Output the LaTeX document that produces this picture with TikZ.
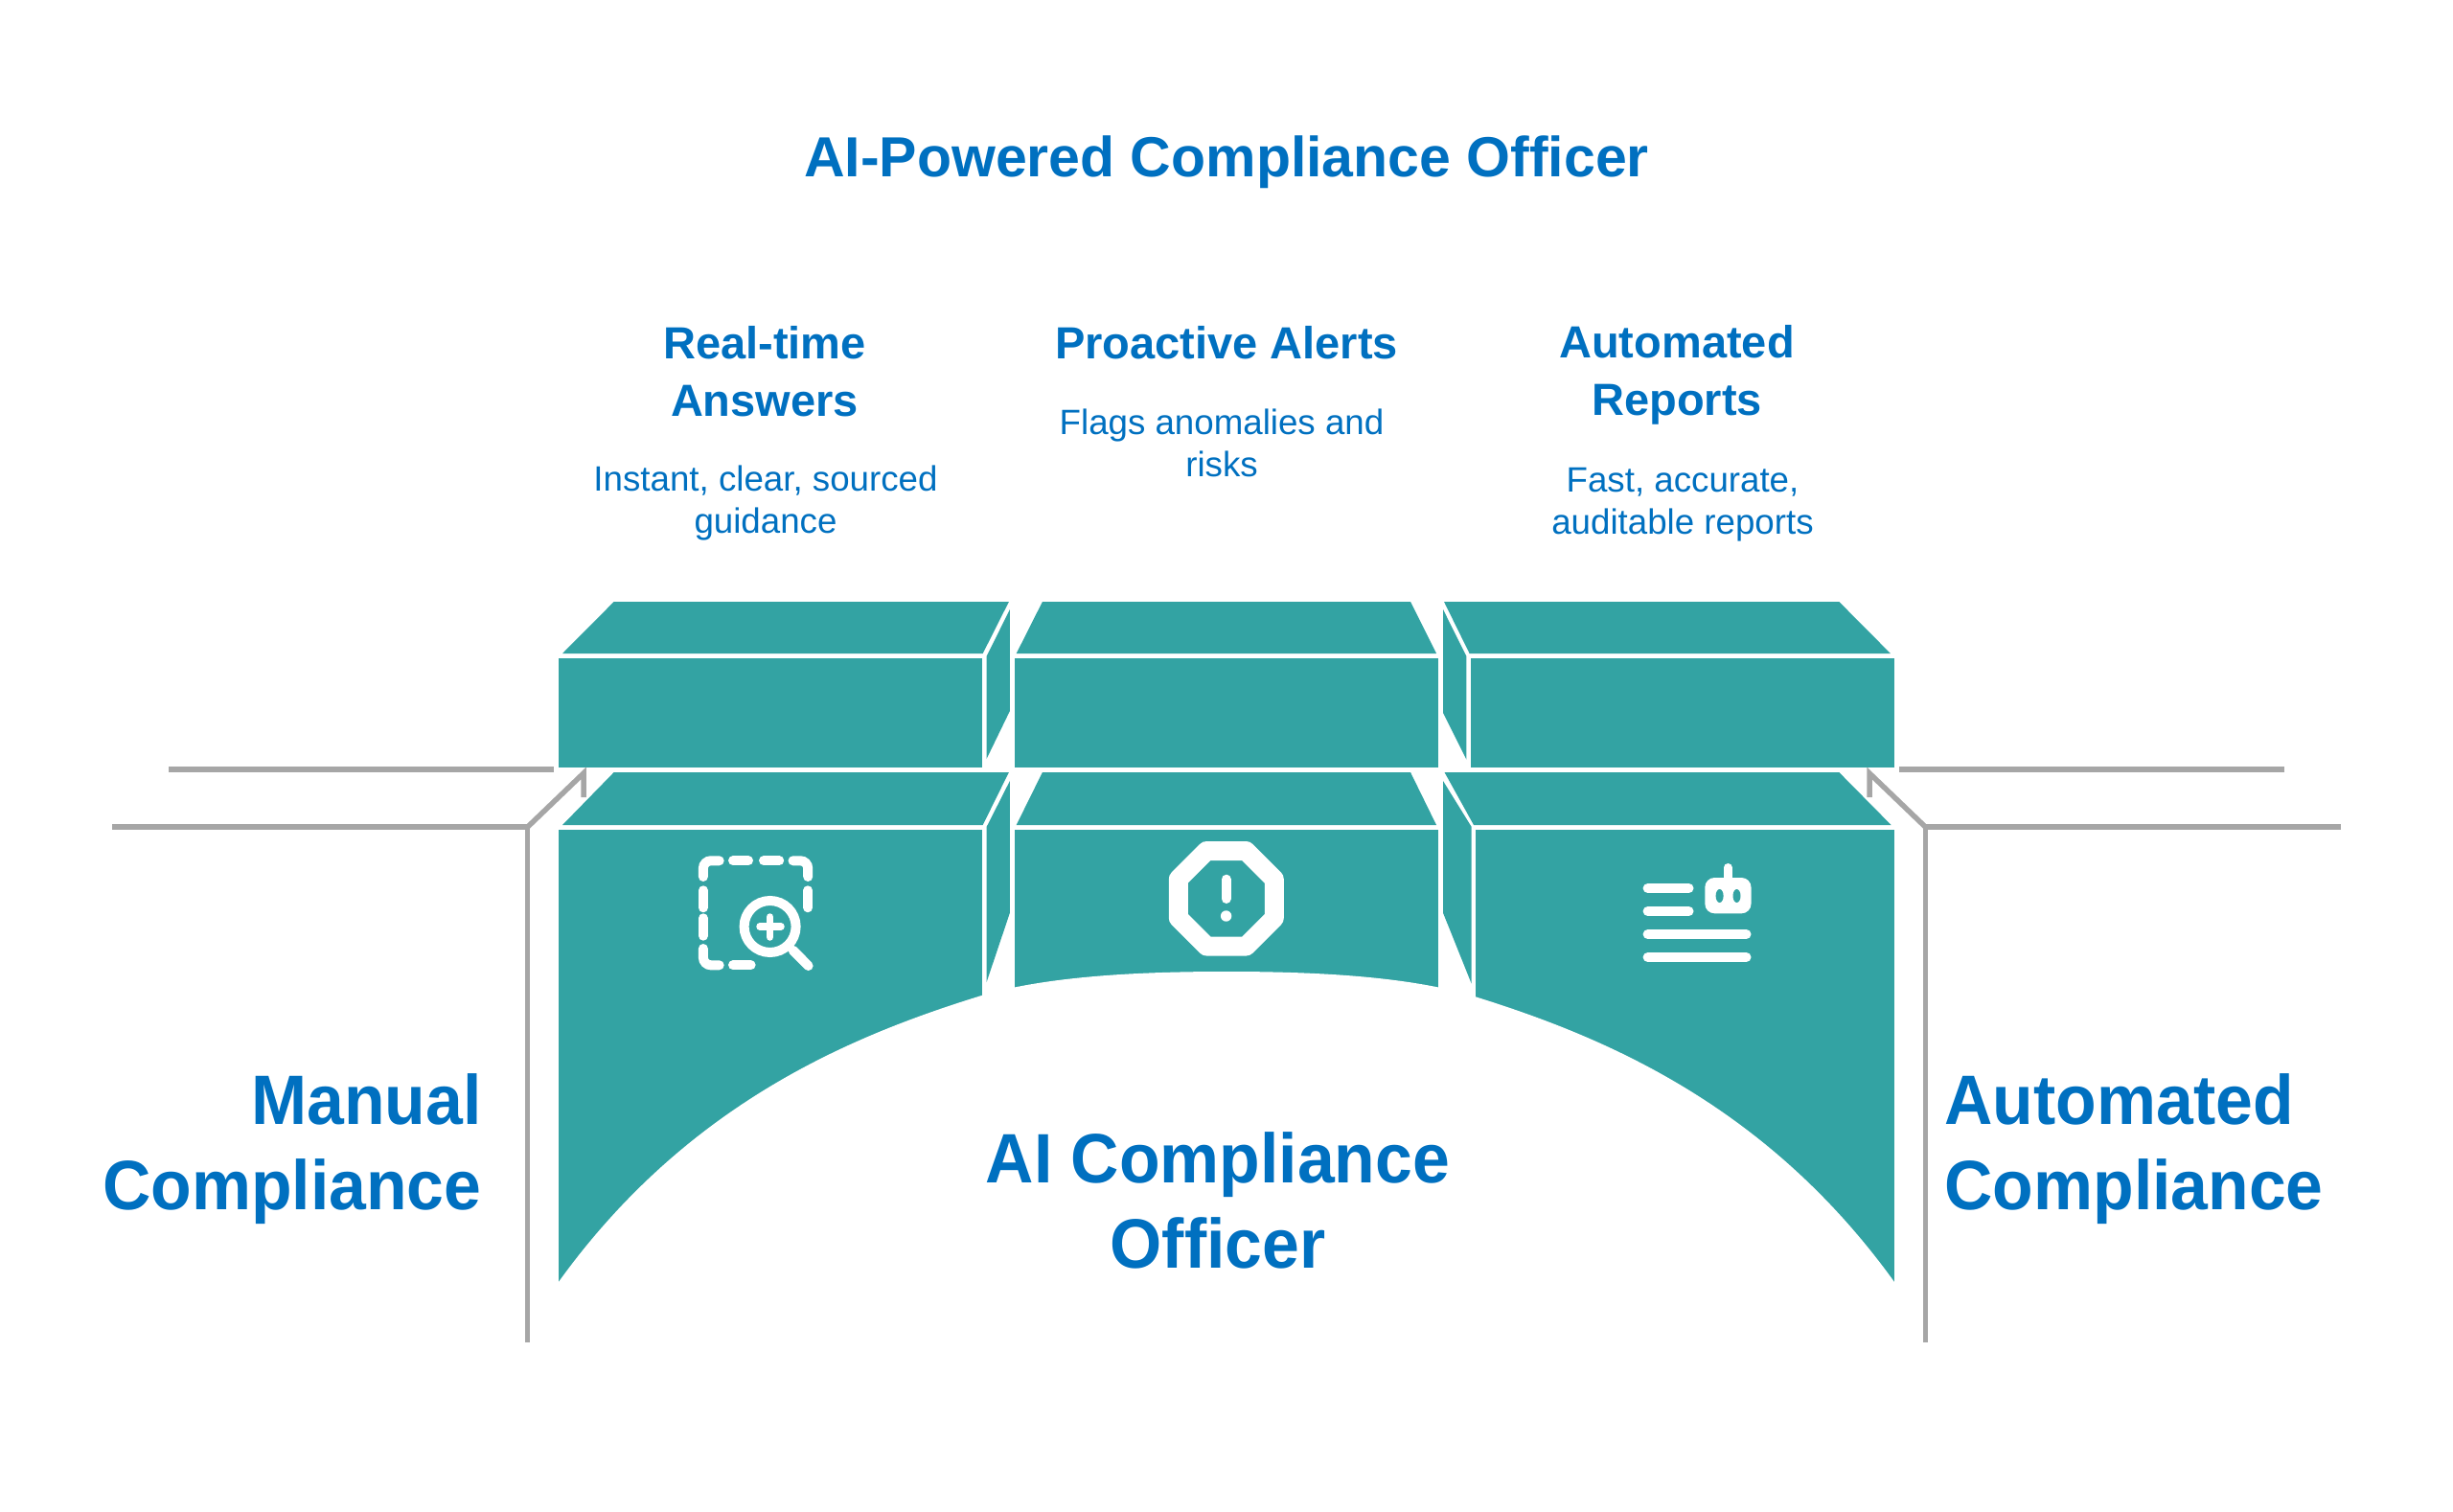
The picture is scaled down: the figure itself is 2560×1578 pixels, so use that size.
\documentclass[tikz,border=0pt]{standalone}
\usepackage{fontspec}
\setmainfont{Liberation Sans}
\newfontfamily\bigfont{Liberation Sans}[FakeStretch=0.955]
\definecolor{tealbox}{HTML}{33A3A3}
\definecolor{bluetext}{HTML}{0070C0}
\definecolor{greyline}{HTML}{A6A6A6}
\tikzset{
    facebox/.style={fill=tealbox,draw=none},
    guideline/.style={draw=greyline,line width=5.5pt},
    iconline/.style={draw=white,line width=10pt,line cap=round},
    titletext/.style={text=bluetext,font=\bfseries\fontsize{59}{70}\selectfont,align=center},
    bigtext/.style={text=bluetext,font=\bigfont\bfseries\fontsize{73}{89}\selectfont},
    headtext/.style={text=bluetext,font=\bfseries\fontsize{47}{60}\selectfont,align=center},
    subtext/.style={text=bluetext,font=\fontsize{36.7}{44}\selectfont,align=center},
}
\begin{document}
\begin{tikzpicture}[x=1pt,y=-1pt]
    \useasboundingbox (0,0) rectangle (2560,1578);
    % upper row of boxes
    \fill[facebox] (640.7,628) -- (1052.9,628) -- (1025.7,682) -- (587,682) -- cycle;
    \fill[facebox] (582.9,687) rectangle (1024.6,801);
    \fill[facebox] (1029.6,685) -- (1053.9,636) -- (1053.9,742) -- (1029.6,792) -- cycle;
    \fill[facebox] (1087.9,628) -- (1472,628) -- (1499,682) -- (1060.7,682) -- cycle;
    \fill[facebox] (1059,687) rectangle (1501,801);
    \fill[facebox] (1506,636) -- (1530.4,685) -- (1530.4,792.7) -- (1506,744) -- cycle;
    \fill[facebox] (1507,628) -- (1919.3,628) -- (1972.9,682) -- (1533.6,682) -- cycle;
    \fill[facebox] (1535.4,687) rectangle (1977,801);
    % lower row of boxes
    \fill[facebox] (640.7,806) -- (1052.9,806) -- (1025.7,861) -- (587,861) -- cycle;
    \fill[facebox] (582.9,866) rectangle (1024.6,1340);
    \fill[facebox] (1029.6,863) -- (1053.9,815) -- (1053.9,952.7) -- (1029.6,1025) -- cycle;
    \fill[facebox] (1087.9,806) -- (1472,806) -- (1499,861) -- (1060.7,861) -- cycle;
    \fill[facebox] (1059,866) rectangle (1501,1040);
    \fill[facebox] (1506,815) -- (1535.7,863) -- (1535.7,1026.7) -- (1506,952.7) -- cycle;
    \fill[facebox] (1507.5,806) -- (1919.3,806) -- (1973.6,861) -- (1538,861) -- cycle;
    \fill[facebox] (1540.4,866) rectangle (1977,1340);
    % arch cut out of the lower row
    \fill[white] (582.9,1338) .. controls (717.6,1151) and (889.4,1080.7) .. (1024.3,1039)
        .. controls (1095,1018) and (1195,1014) .. (1280,1014)
        .. controls (1365,1014) and (1465,1018) .. (1535.7,1039)
        .. controls (1670.6,1080.7) and (1842.4,1151) .. (1977,1338) -- (1977,1345) -- (582.9,1345) -- cycle;
    % grey guides
    \coordinate (leftup) at (176,803);
    \coordinate (leftupend) at (578,803);
    \coordinate (leftlow) at (117,863);
    \coordinate (leftcorner) at (550.7,863);
    \coordinate (lefttip) at (609,807);
    \coordinate (lefttail) at (609,832);
    \coordinate (leftfoot) at (550.7,1401);
    \draw[guideline] (leftup) -- (leftupend);
    \draw[guideline] (leftlow) -- (leftcorner) -- (leftfoot);
    \draw[guideline] (leftcorner) -- (lefttip) -- (lefttail);
    \coordinate (rightup) at (2384,803);
    \coordinate (rightupend) at (1981.8,803);
    \coordinate (rightlow) at (2443,863);
    \coordinate (rightcorner) at (2009.3,863);
    \coordinate (righttip) at (1951,807);
    \coordinate (righttail) at (1951,832);
    \coordinate (rightfoot) at (2009.3,1401);
    \draw[guideline] (rightup) -- (rightupend);
    \draw[guideline] (rightlow) -- (rightcorner) -- (rightfoot);
    \draw[guideline] (rightcorner) -- (righttip) -- (righttail);
    % magnifier icon
    \draw[iconline,rounded corners=8pt] (733.9,915) -- (733.9,898.3) -- (750.7,898.3);
    \draw[iconline] (765,898.3) -- (781,898.3);
    \draw[iconline] (797,898.3) -- (813.2,898.3);
    \draw[iconline,rounded corners=8pt] (827.5,898.3) -- (843.2,898.3) -- (843.2,915);
    \draw[iconline] (843.2,929.3) -- (843.2,947.3);
    \draw[iconline] (733.9,929.3) -- (733.9,947.3);
    \draw[iconline] (733.9,958.3) -- (733.9,976.7);
    \draw[iconline,rounded corners=8pt] (733.9,990) -- (733.9,1007.3) -- (750.7,1007.3);
    \draw[iconline] (765,1007.3) -- (783.6,1007.3);
    \draw[iconline,line cap=butt] (803.6,967) circle (27);
    \draw[iconline,line width=7.5pt] (793,967) -- (815,967);
    \draw[iconline,line width=7.5pt] (803.6,957) -- (803.6,978);
    \draw[iconline] (827.5,991.7) -- (843.6,1008);
    % alert icon
    \draw[white,line width=20pt,line join=round] (1259.3,888) -- (1300.3,888) -- (1329.8,917.5) -- (1329.8,958.1)
        -- (1300.3,987.6) -- (1259.3,987.6) -- (1229.8,958.1) -- (1229.8,917.5) -- cycle;
    \draw[iconline] (1279.6,917.7) -- (1279.6,938);
    \fill[white] (1279.6,956) circle (5.7);
    % report icon
    \draw[iconline] (1719.6,927) -- (1762.5,927);
    \draw[iconline] (1719.6,951) -- (1762.5,951);
    \draw[iconline] (1719.6,975) -- (1822.5,975);
    \draw[iconline] (1719.6,999) -- (1822.5,999);
    \fill[white,rounded corners=10pt] (1779.3,916) rectangle (1827.5,953.3);
    \draw[iconline,line width=9pt] (1803.2,905.5) -- (1803.2,920);
    \fill[tealbox] (1794.6,935) ellipse (4 and 7);
    \fill[tealbox] (1812.5,935) ellipse (4 and 7);
    % texts
    \node[titletext] (title) at (1280,169.5) {AI-Powered Compliance Officer};
    \node[headtext] (realhead) at (798,388) {Real-time\\Answers};
    \node[subtext] (realsub) at (799,525) {Instant, clear, sourced\\guidance};
    \node[headtext] (alerthead) at (1280,358) {Proactive Alerts};
    \node[subtext] (alertsub) at (1275,462) {Flags anomalies and\\risks};
    \node[headtext] (autohead) at (1750,391.5) {Automated\\Reports};
    \node[subtext] (autosub) at (1756,526.5) {Fast, accurate,\\auditable reports};
    \node[bigtext,align=right,anchor=east] (manual) at (506,1199.5) {Manual\\Compliance};
    \node[bigtext,align=center] (officer) at (1271,1253) {AI Compliance\\Officer};
    \node[bigtext,align=left,anchor=west] (autocomp) at (2026,1199.5) {Automated\\Compliance};
\end{tikzpicture}
\end{document}
